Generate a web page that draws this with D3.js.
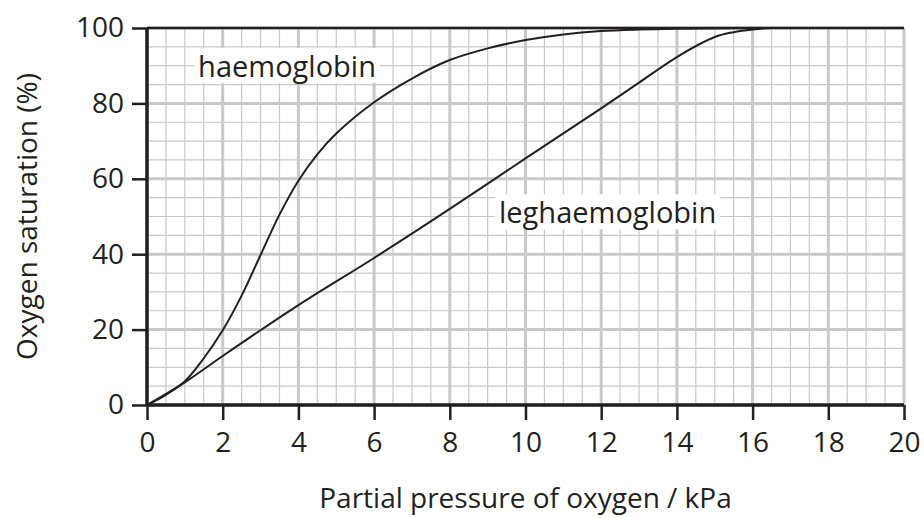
<!DOCTYPE html>
<html>
<head>
<meta charset="utf-8">
<script src="https://cdn.jsdelivr.net/npm/d3@7"></script>
<style>
  body { margin: 0; background: #fff; }
  text { font-family: "Open Sans", sans-serif; fill: #231f20; }
</style>
</head>
<body>
<div id="chart"></div>
<script>
// Data
var xTicks = [0, 2, 4, 6, 8, 10, 12, 14, 16, 18, 20];
var yTicks = [0, 20, 40, 60, 80, 100];

var haemoX = [0, 0.5, 1, 1.5, 2, 2.5, 3, 3.5, 4, 4.5, 5, 6, 7, 8, 9, 10, 11, 12, 13, 14, 16, 20];
var haemoY = [0, 2.7, 6.3, 12.4, 19.8, 29, 39.8, 50.5, 59.5, 66.5, 72, 80.3, 86.6, 91.5, 94.6, 96.8, 98.3, 99.2, 99.6, 99.8, 100, 100];

var legX = [0, 1, 2, 4, 6, 8, 10, 12, 13, 14, 15, 15.5, 16, 16.5, 17, 20];
var legY = [0, 6, 13, 26.5, 39, 52, 65.4, 78.7, 85.5, 92.3, 97.6, 98.9, 99.6, 100, 100, 100];

var labels = [
  { name: "haemoglobin", x: 1.35, y: 87 },
  { name: "leghaemoglobin", x: 9.3, y: 48.2 }
];

var margin = { top: 28, right: 20, bottom: 113, left: 147 },
  width = 924 - margin.left - margin.right,
  height = 518 - margin.top - margin.bottom;

var ink = "#231f20", gridColor = "#c9c9cb";

var svg = d3.select("#chart").append("svg")
  .attr("width", 924)
  .attr("height", 518)
  .append("g")
  .attr("transform", "translate(" + margin.left + "," + margin.top + ")");

var x = d3.scaleLinear().domain([0, 20]).range([0, width]);
var y = d3.scaleLinear().domain([0, 100]).range([height, 0]);

// graph paper: minor every 0.5 kPa / 5 %, major every 2 kPa / 20 %
var grid = svg.append("g").attr("class", "grid");
grid.selectAll(".vminor")
  .data(d3.range(0, 20.01, 0.5))
  .enter().append("line")
  .attr("x1", d => x(d)).attr("x2", d => x(d))
  .attr("y1", 0).attr("y2", height)
  .style("stroke", gridColor)
  .style("stroke-width", d => (Math.abs(d % 2) < 1e-6) ? 3 : 1.2);

grid.selectAll(".hminor")
  .data(d3.range(0, 100.01, 5))
  .enter().append("line")
  .attr("x1", 0).attr("x2", width)
  .attr("y1", d => y(d)).attr("y2", d => y(d))
  .style("stroke", gridColor)
  .style("stroke-width", d => (d % 20 === 0) ? 3 : 1.2);

// top border
svg.append("line")
  .attr("x1", 0).attr("x2", width)
  .attr("y1", y(100)).attr("y2", y(100))
  .style("stroke", ink).style("stroke-width", 2.5);

// curves
var line = d3.line()
  .x(d => x(d[0]))
  .y(d => y(d[1]))
  .curve(d3.curveCatmullRom.alpha(0.5));

var series = [d3.zip(haemoX, haemoY), d3.zip(legX, legY)];
svg.selectAll(".curve")
  .data(series)
  .enter().append("path")
  .attr("class", "curve")
  .attr("d", line)
  .style("fill", "none")
  .style("stroke", ink)
  .style("stroke-width", 2);

// labels with white boxes
var lab = svg.selectAll(".lab")
  .data(labels)
  .enter().append("g")
  .attr("class", "lab");
lab.append("rect");
lab.append("text")
  .attr("x", d => x(d.x))
  .attr("y", d => y(d.y))
  .style("font-size", "29px")
  .text(d => d.name);
lab.each(function() {
  var g = d3.select(this), b = g.select("text").node().getBBox();
  g.select("rect")
    .attr("x", b.x - 4).attr("y", b.y + 2)
    .attr("width", b.width + 8).attr("height", b.height - 4)
    .style("fill", "#fff");
});

// axes
var xAxis = svg.append("g")
  .attr("transform", "translate(0," + height + ")")
  .call(d3.axisBottom(x).tickValues(xTicks).tickSize(15).tickPadding(12));
var yAxis = svg.append("g")
  .call(d3.axisLeft(y).tickValues(yTicks).tickSize(15).tickPadding(8));

[xAxis, yAxis].forEach(function(a) {
  a.select(".domain").style("stroke", ink).style("stroke-width", 3.5);
  a.selectAll(".tick line").style("stroke", ink).style("stroke-width", 2.5);
  a.selectAll(".tick text")
    .style("font-family", '"Open Sans", sans-serif')
    .style("font-size", "28px")
    .style("fill", ink);
});
xAxis.select(".domain").attr("d", "M0,0H" + width);
yAxis.select(".domain").attr("d", "M0," + height + "V0");

// axis titles, centred on the plot
svg.append("text")
  .attr("x", width / 2)
  .attr("y", height + 103)
  .attr("text-anchor", "middle")
  .style("font-size", "28px")
  .text("Partial pressure of oxygen / kPa");

svg.append("text")
  .attr("transform", "translate(" + (37 - margin.left) + "," + (height / 2) + ") rotate(-90)")
  .attr("text-anchor", "middle")
  .style("font-size", "28px")
  .text("Oxygen saturation (%)");
</script>
</body>
</html>
